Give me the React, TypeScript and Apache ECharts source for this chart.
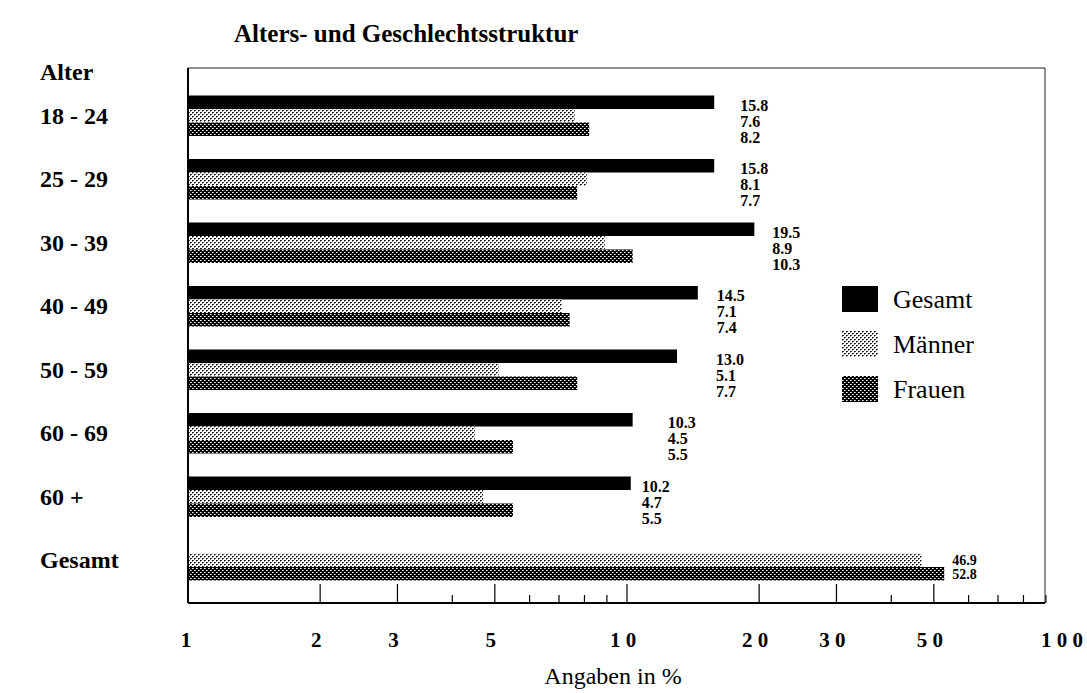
import React, { useEffect, useRef } from "react";
import * as echarts from "echarts";

const chartTitle = "Alters- und Geschlechtsstruktur";
const axisTitle = "Angaben in %";
const rowHeader = "Alter";
const categories = ["18 - 24", "25 - 29", "30 - 39", "40 - 49", "50 - 59", "60 - 69", "60 +", "Gesamt"];
const gesamt: (number | null)[] = [15.8, 15.8, 19.5, 14.5, 13.0, 10.3, 10.2, null];
const maenner = [7.6, 8.1, 8.9, 7.1, 5.1, 4.5, 4.7, 46.9];
const frauen = [8.2, 7.7, 10.3, 7.4, 7.7, 5.5, 5.5, 52.8];
const tickLabels = [1, 2, 3, 5, 10, 20, 30, 50, 100];
const majorTicks = [2, 3, 5, 10, 20, 30, 50];
const minorTicks = [4, 6, 7, 8, 9, 40, 60, 70, 80, 90];

// label nudges (px) to the right of the longest bar of each row (style only)
const labelNudge = [26, 26, 18, 19, 39, 35, 11, 8];

const SERIF = "'Liberation Serif', 'Times New Roman', serif";

function makePattern(kind: "light" | "dark") {
  const c = document.createElement("canvas");
  c.width = 4;
  c.height = 4;
  const ctx = c.getContext("2d")!;
  if (kind === "light") {
    ctx.fillStyle = "#fff";
    ctx.fillRect(0, 0, 4, 4);
    ctx.fillStyle = "#000";
    ctx.fillRect(0, 0, 1, 1);
    ctx.fillRect(2, 2, 1, 1);
    ctx.fillStyle = "#444";
    ctx.fillRect(1, 0, 1, 1);
    ctx.fillRect(3, 2, 1, 1);
    ctx.fillStyle = "#888";
    ctx.fillRect(0, 1, 1, 1);
    ctx.fillRect(2, 3, 1, 1);
  } else {
    ctx.fillStyle = "#000";
    ctx.fillRect(0, 0, 4, 4);
    ctx.fillStyle = "#fff";
    ctx.fillRect(0, 0, 1, 1);
    ctx.fillRect(2, 2, 1, 1);
    ctx.fillStyle = "#999";
    ctx.fillRect(1, 0, 1, 1);
    ctx.fillRect(3, 2, 1, 1);
  }
  return { image: c, repeat: "repeat" } as any;
}

export default function App() {
  const ref = useRef<HTMLDivElement>(null);
  useEffect(() => {
    if (!ref.current) return;
    const chart = echarts.init(ref.current, null, { renderer: "svg" });
    const lightPat = makePattern("light");
    const darkPat = makePattern("dark");

    const gridLeft = 188;
    const gridTop = 84;
    const gridWidth = 878;
    const gridHeight = 508;
    const boxTop = 68;
    const boxBottom = 603;
    const boxRight = 1045;
    const barW = 13.5;

    const tickData = [
      ...majorTicks.map((v) => ({ value: [v, 0], major: 1 })),
      ...minorTicks.map((v) => ({ value: [v, 0], major: 0 })),
    ];
    const labelRows = categories.map((_, i) => {
      const vals = [gesamt[i], maenner[i], frauen[i]].filter((v) => v != null) as number[];
      return [Math.max(...vals), i];
    });

    const option: any = {
      animation: false,
      backgroundColor: "#fff",
      title: {
        text: chartTitle,
        left: 229,
        top: 16,
        textStyle: { fontFamily: SERIF, fontWeight: "bold", fontSize: 25, color: "#000" },
      },
      legend: {
        data: ["Gesamt", "Männer", "Frauen"],
        orient: "vertical",
        left: 837,
        top: 281,
        itemWidth: 36,
        itemHeight: 26,
        itemGap: 19,
        itemStyle: { borderWidth: 0 },
        icon: "rect",
        textStyle: { fontFamily: SERIF, fontSize: 26, color: "#000", padding: [0, 0, 0, 10] },
      },
      grid: { left: gridLeft, top: gridTop, width: gridWidth, height: gridHeight, containLabel: false },
      xAxis: {
        type: "log",
        logBase: 10,
        min: 1,
        max: 100,
        axisLine: { show: false },
        axisTick: { show: false },
        axisLabel: { show: false },
        splitLine: { show: false },
      },
      yAxis: {
        type: "category",
        data: categories,
        inverse: true,
        axisLine: { show: false },
        axisTick: { show: false },
        axisLabel: {
          align: "left",
          margin: gridLeft - 40,
          fontFamily: SERIF,
          fontWeight: "bold",
          fontSize: 24,
          color: "#000",
        },
      },
      graphic: [
        {
          type: "rect",
          shape: { x: gridLeft, y: boxTop, width: boxRight - gridLeft, height: boxBottom - boxTop },
          style: { fill: "none", stroke: "#222", lineWidth: 1 },
          z: 10,
        },
        {
          type: "line",
          shape: { x1: gridLeft, y1: boxTop, x2: gridLeft, y2: boxBottom },
          style: { stroke: "#000", lineWidth: 2 },
          z: 10,
        },
        {
          type: "line",
          shape: { x1: gridLeft, y1: boxBottom, x2: boxRight, y2: boxBottom },
          style: { stroke: "#000", lineWidth: 2 },
          z: 10,
        },
        {
          type: "text",
          x: 40,
          y: 72,
          style: {
            text: rowHeader,
            fontFamily: SERIF,
            fontWeight: "bold",
            fontSize: 24,
            fill: "#000",
            verticalAlign: "middle",
          },
        },
        {
          type: "text",
          x: 613,
          y: 676,
          style: {
            text: axisTitle,
            fontFamily: SERIF,
            fontSize: 24,
            fill: "#000",
            align: "center",
            verticalAlign: "middle",
          },
        },
      ],
      series: [
        {
          name: "Gesamt",
          type: "bar",
          data: gesamt.map((v) => (v == null ? "-" : v)),
          barWidth: barW,
          barGap: "0%",
          itemStyle: { color: "#000" },
        },
        {
          name: "Männer",
          type: "bar",
          data: maenner,
          barWidth: barW,
          barGap: "0%",
          itemStyle: { color: lightPat },
        },
        {
          name: "Frauen",
          type: "bar",
          data: frauen,
          barWidth: barW,
          barGap: "0%",
          itemStyle: { color: darkPat },
        },
        {
          name: "ticks",
          type: "custom",
          silent: true,
          data: tickData,
          encode: { x: 0, y: 1 },
          renderItem: (params: any, api: any) => {
            const v = api.value(0);
            const x = api.coord([v, 0])[0];
            const major = tickData[params.dataIndex].major === 1;
            return {
              type: "line",
              shape: { x1: x, y1: boxBottom, x2: x, y2: boxBottom - (major ? 19 : 8) },
              style: { stroke: "#000", lineWidth: 1.2 },
            };
          },
        },
        {
          name: "tickLabels",
          type: "custom",
          silent: true,
          data: tickLabels.map((v) => [v, 0]),
          encode: { x: 0, y: 1 },
          renderItem: (params: any, api: any) => {
            const v = api.value(0);
            const x = api.coord([v, 0])[0];
            return {
              type: "text",
              x: x - (v === 1 ? 2 : 4),
              y: boxBottom + 37,
              style: {
                text: String(v).split("").join(" "),
                fontFamily: SERIF,
                fontWeight: "bold",
                fontSize: 21,
                fill: "#000",
                align: "center",
                verticalAlign: "middle",
              },
            };
          },
        },
        {
          name: "valueLabels",
          type: "custom",
          silent: true,
          data: labelRows,
          encode: { x: 0, y: 1 },
          renderItem: (params: any, api: any) => {
            const i = params.dataIndex;
            const p = api.coord([api.value(0), api.value(1)]);
            const x = p[0] + labelNudge[i];
            const hasG = gesamt[i] != null;
            const vals = [gesamt[i], maenner[i], frauen[i]].filter((v) => v != null) as number[];
            const lh = hasG ? 16 : 14;
            const fs = hasG ? 16 : 14;
            const firstCenter = hasG ? p[1] - barW + 3 : p[1];
            return {
              type: "text",
              x,
              y: firstCenter - lh / 2,
              style: {
                text: vals.map((v) => v.toFixed(1)).join("\n"),
                fontFamily: SERIF,
                fontWeight: "bold",
                fontSize: fs,
                lineHeight: lh,
                fill: "#000",
                align: "left",
                verticalAlign: "top",
              },
            };
          },
        },
      ],
    };
    chart.setOption(option);
    return () => chart.dispose();
  }, []);
  return (
    <div
      ref={ref}
      style={{ position: "fixed", left: 0, top: 0, width: 1087, height: 693, background: "#fff" }}
    />
  );
}
